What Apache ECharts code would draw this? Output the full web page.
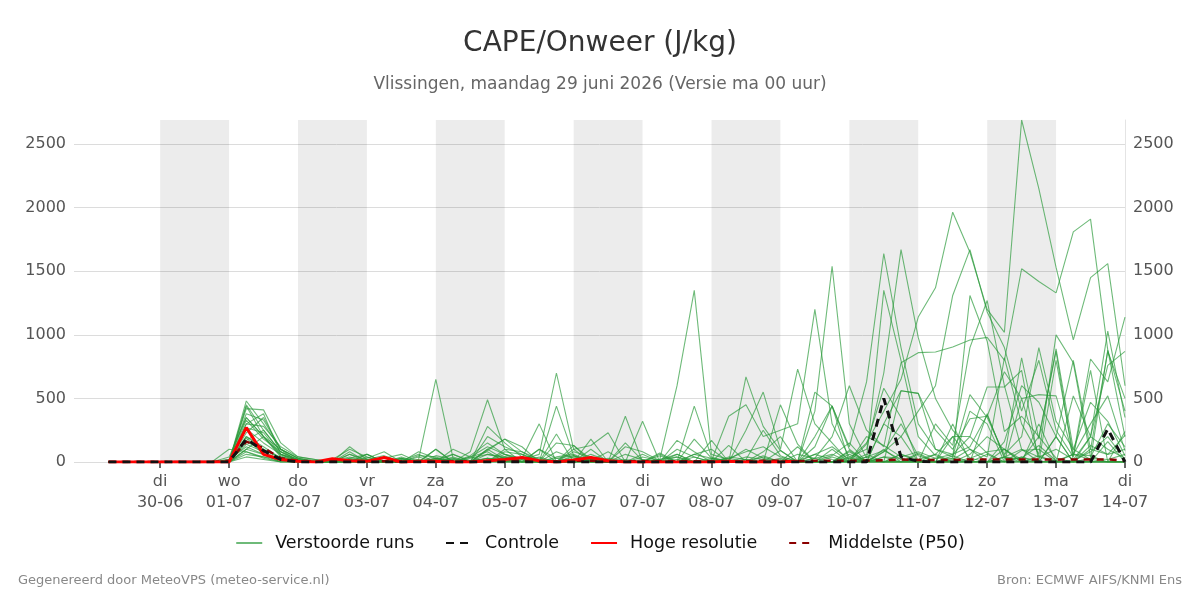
<!DOCTYPE html>
<html>
<head>
<meta charset="utf-8">
<title>CAPE/Onweer</title>
<script src="https://cdn.jsdelivr.net/npm/echarts@6/dist/echarts.min.js"></script>
<style>
  html, body { margin: 0; padding: 0; background: #fff; }
  #chart { width: 1200px; height: 600px; }
</style>
</head>
<body>
<div id="chart"></div>
<script>
// tijdstappen: elke 6 uur, eerste punt 29-06 06 uur (uren t.o.v. 30-06 00 uur)
const startHour = -18;
const stepHours = 6;

const dayNames = ["di", "wo", "do", "vr", "za", "zo", "ma", "di", "wo", "do", "vr", "za", "zo", "ma", "di"];
const dayDates = ["30-06", "01-07", "02-07", "03-07", "04-07", "05-07", "06-07", "07-07", "08-07", "09-07", "10-07", "11-07", "12-07", "13-07", "14-07"];

// verstoorde runs (J/kg)
const m01 = [0,0,0,0,0,0,0,40,350,200,60,20, 10,0,60,20,0,30,0,10,0,40,120,60, 20,0,80,30,10,0,60,20,0,100,40,0, 30,80,120,40,10,60,120,20,150,400,650,1140, 1370,1965,1650,1200,1020,2690,2150,1530,960,1450,1560,600];
const m02 = [0,0,0,0,0,0,0,0,480,300,100,30, 0,20,100,40,10,0,20,0,60,10,0,80, 60,10,0,130,20,0,0,40,10,0,180,30, 10,0,0,0,60,30,200,600,250,120,780,860, 865,905,960,980,800,1520,1420,1330,1810,1910,880,400];
const m03 = [0,0,0,0,0,0,0,0,450,250,80,20, 0,10,40,0,30,60,0,100,0,0,280,150, 40,30,0,50,10,80,0,0,20,60,0,0, 40,20,0,90,0,200,440,120,630,1640,900,300, 100,40,530,350,60,200,900,320,100,20,880,200];
const m04 = [0,0,0,0,0,0,0,0,420,410,150,40, 20,0,30,60,0,0,0,50,20,0,90,180, 80,20,0,0,30,0,120,80,10,0,60,30, 0,20,250,50,0,0,0,40,100,700,1670,980, 500,250,100,40,820,300,60,1000,780,40,300,120];
const m05 = [0,0,0,0,0,0,0,0,380,330,100,30, 10,0,20,0,0,40,0,0,0,30,60,40, 0,0,40,60,0,0,20,0,50,0,40,0, 0,0,80,200,0,400,1540,300,30,1350,800,200, 50,0,0,380,30,30,130,10,60,300,520,90];
const m06 = [0,0,0,0,0,0,0,20,350,200,40,10, 0,0,0,20,50,0,80,30,10,0,0,20, 0,100,30,0,0,0,0,0,20,40,0,10, 360,450,200,250,300,1200,300,40,0,80,300,50, 0,0,30,80,100,20,200,870,10,0,0,240];
const m07 = [0,0,0,0,0,0,0,0,300,280,120,40, 20,0,0,30,80,0,0,20,60,0,30,0, 0,0,30,50,0,20,0,0,20,600,1350,60, 20,100,30,0,0,0,40,0,40,90,20,0, 300,130,900,1270,600,100,40,100,20,200,100,30];
const m08 = [0,0,0,0,0,0,0,0,260,150,60,20, 0,0,20,0,0,10,60,0,30,0,0,40, 20,60,700,100,0,30,10,0,0,0,60,100, 0,0,0,20,0,30,60,0,200,130,40,80, 30,60,200,70,0,500,40,0,0,30,20,60];
const m09 = [0,0,0,0,0,0,0,0,230,350,100,30, 0,0,30,0,0,0,20,650,30,0,0,20, 10,0,0,80,40,0,0,60,0,20,0,0, 0,40,20,0,0,0,0,10,20,0,60,20, 60,200,30,0,40,20,0,800,60,20,0,0];
const m10 = [0,0,0,0,0,0,0,0,200,100,30,0, 0,0,0,0,10,20,0,0,0,80,490,100, 80,0,440,50,0,0,0,0,70,0,0,0, 0,0,40,0,0,10,50,150,0,40,30,0, 0,0,60,200,100,0,300,0,10,80,200,20];
const m11 = [0,0,0,0,0,0,0,0,170,250,80,20, 0,0,120,20,0,0,0,30,0,0,0,60, 30,300,0,0,60,10,0,20,0,0,0,30, 0,0,0,30,0,60,20,0,0,80,200,400, 600,1310,1670,1180,900,400,800,250,40,720,0,0];
const m12 = [0,0,0,0,0,0,0,0,140,80,20,0, 0,0,0,40,0,0,0,30,0,0,200,120, 60,0,0,0,0,0,0,0,0,0,440,40, 0,250,550,100,730,300,150,0,20,0,0,0, 0,20,100,0,0,40,0,0,520,200,1030,350];
const m13 = [0,0,0,0,0,0,0,20,120,60,20,0, 0,10,0,60,0,30,0,0,0,10,30,20, 0,0,220,0,20,0,360,0,0,40,0,0, 0,670,280,90,0,0,0,30,0,0,0,60, 0,200,200,590,590,720,0,200,800,100,60,210];
const m14 = [0,0,0,0,0,0,0,0,100,60,0,0, 0,0,0,0,0,0,0,0,0,50,150,60, 0,40,0,100,130,230,0,0,0,0,0,20, 0,0,0,0,0,550,440,100,0,0,560,540, 250,100,340,360,710,500,530,520,50,810,630,1140];
const m15 = [0,0,0,0,0,0,0,100,80,40,0,0, 0,0,0,0,0,30,0,20,20,10,0,30, 0,100,0,0,30,0,0,320,0,0,0,0, 30,0,0,0,0,0,0,90,0,300,200,0, 0,30,1310,950,240,360,200,30,0,100,870,500];
const m16 = [0,0,0,0,0,0,0,0,60,40,20,0, 0,0,0,0,0,0,0,0,100,40,0,0, 0,0,0,0,180,0,0,0,0,170,80,0, 0,0,0,450,140,0,0,80,0,300,560,540, 100,60,120,370,40,820,180,890,100,470,320,50];
const m17 = [0,0,0,0,0,0,0,0,40,20,0,0, 0,0,60,0,0,0,50,40,0,0,100,180, 120,0,0,0,0,0,0,0,0,0,0,0, 0,0,50,0,120,0,0,0,0,40,0,70, 0,300,0,0,160,600,470,200,0,0,160,0];
const m18 = [0,0,0,0,0,0,0,0,300,380,60,0, 0,0,0,0,0,20,0,100,0,0,0,40, 30,0,0,20,0,0,150,10,0,0,0,0, 0,20,0,0,0,120,440,0,0,0,0,0, 0,0,400,300,0,90,100,0,0,200,760,870];
const m19 = [0,0,0,0,0,0,0,0,200,120,30,0, 0,0,20,0,0,0,40,0,0,0,60,30, 0,0,150,130,0,0,0,0,0,0,0,170, 0,0,0,0,0,0,0,0,60,0,60,0, 0,50,0,0,100,0,0,0,60,50,0,0];
const m20 = [0,0,0,0,0,0,0,0,160,90,40,0, 0,0,0,60,0,0,0,0,0,0,100,20, 0,0,0,0,100,0,0,0,0,0,0,0, 130,0,0,0,0,0,0,0,140,580,350,0, 30,30,0,0,40,100,0,200,0,130,60,100];
const m21 = [0,0,0,0,0,0,0,0,440,200,50,0, 0,0,0,0,0,0,0,0,0,40,80,0, 30,0,0,0,20,0,0,0,0,0,0,0, 0,0,0,0,0,0,0,60,0,0,0,0, 0,0,0,60,0,40,0,0,0,0,0,0];
const m22 = [0,0,0,0,0,0,0,0,330,180,80,0, 0,0,0,20,0,0,0,0,0,0,0,100, 0,0,0,40,0,0,0,0,0,60,0,0, 0,0,0,0,0,0,100,0,0,0,0,0, 0,0,0,0,0,0,0,0,0,0,0,0];
const m23 = [0,0,0,0,0,0,0,0,270,230,60,0, 0,0,80,0,0,0,0,30,0,0,0,0, 0,0,0,0,0,0,0,0,60,0,0,0, 0,0,0,0,0,0,0,0,40,0,0,0, 60,0,0,0,40,0,0,0,0,0,0,0];
const m24 = [0,0,0,0,0,0,0,0,190,60,0,0, 0,0,0,0,0,0,0,0,40,0,0,0, 0,0,0,0,0,0,0,0,0,0,0,0, 0,0,0,0,0,0,0,0,0,100,0,0, 0,0,0,0,0,0,0,0,0,0,0,0];
const m25 = [0,0,0,0,0,0,0,0,100,200,100,0, 0,0,0,0,0,0,0,0,0,0,30,0, 0,0,0,0,0,0,0,0,0,0,0,0, 0,0,0,0,0,0,0,0,0,0,0,0, 0,0,0,0,0,0,50,0,0,0,0,0];
const m26 = [0,0,0,0,0,0,0,0,80,30,0,0, 0,0,0,0,0,0,0,0,0,0,0,0, 0,0,0,0,0,0,0,0,0,0,0,0, 0,0,0,0,0,30,0,0,0,0,0,0, 0,0,0,0,0,0,0,0,0,0,0,0];
const members = [m01, m02, m03, m04, m05, m06, m07, m08, m09, m10, m11, m12, m13, m14, m15, m16, m17, m18, m19, m20, m21, m22, m23, m24, m25, m26];

const controle = [0,0,0,0,0,0,0,0,180,90,20,0, 0,0,0,0,0,0,0,0,0,0,0,0, 0,0,0,0,0,0,0,0,0,0,0,0, 0,0,0,0,0,0,0,0,0,500,40,5, 0,0,0,0,0,0,0,0,0,0,260,0];
const hogeResolutie = [0,0,0,0,0,0,0,0,270,60,20,5, 0,25,10,5,35,0,5,5,0,0,10,20, 35,10,0,15,35,10,0,0,0,0,0,0, 5,0,0,0,5];
const mediaan = [0,0,0,0,0,0,0,10,160,110,30,10, 5,5,10,5,5,5,5,5,5,5,10,10, 10,5,5,10,10,5,5,5,5,5,5,5, 5,5,10,10,5,10,10,10,10,15,20,15, 15,15,20,20,20,20,20,20,20,20,20,10];

const yTicks = [0, 500, 1000, 1500, 2000, 2500];
const yMax = 2690;

const toPairs = (arr) => arr.map((v, i) => [startHour + i * stepHours, v]);
const dayHours = dayDates.map((d, i) => i * 24);

// grijze banden: om de dag, vanaf di 30-06
const bands = [];
for (let i = 0; i + 1 < dayHours.length; i += 2) {
  bands.push([{ xAxis: dayHours[i] }, { xAxis: dayHours[i + 1] }]);
}

const font = "DejaVu Sans";
const chart = echarts.init(document.getElementById("chart"));

const series = [
  {
    name: "bands",
    type: "line",
    data: [],
    silent: true,
    z: 1,
    markArea: {
      silent: true,
      itemStyle: { color: "rgba(0,0,0,0.075)" },
      data: bands,
    },
  },
];

members.forEach((m) => {
  series.push({
    name: "Verstoorde runs",
    type: "line",
    data: toPairs(m),
    showSymbol: false,
    symbol: "none",
    z: 2,
    lineStyle: { color: "#2a9a3a", width: 1.1, opacity: 0.68 },
    itemStyle: { color: "#2a9a3a" },
  });
});

series.push(
  {
    name: "Middelste (P50)",
    type: "line",
    data: toPairs(mediaan),
    symbol: "none",
    z: 3,
    lineStyle: { color: "#8b0000", width: 2.5, type: [7, 6] },
    itemStyle: { color: "#8b0000" },
  },
  {
    name: "Hoge resolutie",
    type: "line",
    data: toPairs(hogeResolutie),
    symbol: "none",
    z: 4,
    lineStyle: { color: "#ff0000", width: 3 },
    itemStyle: { color: "#ff0000" },
  },
  {
    name: "Controle",
    type: "line",
    data: toPairs(controle),
    symbol: "none",
    z: 5,
    lineStyle: { color: "#111111", width: 3, type: [8, 6] },
    itemStyle: { color: "#111111" },
  }
);

const yLabel = {
  color: "#555",
  fontSize: 16,
  fontFamily: font,
  margin: 8,
  customValues: yTicks,
  formatter: (v) => String(v),
};

chart.setOption({
  animation: false,
  textStyle: { fontFamily: font },
  title: [
    {
      text: "CAPE/Onweer (J/kg)",
      left: "center",
      top: 25,
      textStyle: { fontSize: 28, fontWeight: "normal", color: "#333", fontFamily: font },
    },
    {
      text: "Vlissingen, maandag 29 juni 2026 (Versie ma 00 uur)",
      left: "center",
      top: 71,
      textStyle: { fontSize: 17, fontWeight: "normal", color: "#666", fontFamily: font },
    },
    {
      text: "Gegenereerd door MeteoVPS (meteo-service.nl)",
      left: 13,
      top: 569,
      textStyle: { fontSize: 13, fontWeight: "normal", color: "#888", fontFamily: font },
    },
    {
      text: "Bron: ECMWF AIFS/KNMI Ens",
      right: 13,
      top: 569,
      textStyle: { fontSize: 13, fontWeight: "normal", color: "#888", fontFamily: font },
    },
  ],
  legend: {
    data: ["Verstoorde runs", "Controle", "Hoge resolutie", "Middelste (P50)"],
    left: "center",
    top: 529,
    itemWidth: 26,
    itemHeight: 10,
    itemGap: 31,
    selectedMode: false,
    itemStyle: { opacity: 0 },
    textStyle: { fontSize: 17.5, color: "#111", fontFamily: font, padding: [0, 0, 0, 8] },
  },
  grid: { left: 74, right: 75, top: 120, bottom: 138 },
  xAxis: {
    type: "value",
    min: -30,
    max: dayHours[dayHours.length - 1],
    splitLine: { show: false },
    axisLine: { show: false },
    axisTick: {
      show: true,
      length: 6,
      lineStyle: { color: "#666", width: 2 },
      customValues: dayHours,
    },
    axisLabel: {
      customValues: dayHours,
      color: "#555",
      fontSize: 16,
      lineHeight: 21,
      margin: 9,
      fontFamily: font,
      formatter: (v) => {
        const i = dayHours.indexOf(v);
        return i < 0 ? "" : dayNames[i] + "\n" + dayDates[i];
      },
    },
  },
  yAxis: [
    {
      type: "value",
      position: "left",
      min: 0,
      max: yMax,
      interval: 500,
      axisTick: { show: false },
      axisLine: { show: false },
      splitLine: { show: true, showMaxLine: false, lineStyle: { color: "#dcdcdc", width: 1 } },
      axisLabel: yLabel,
    },
    {
      type: "value",
      position: "right",
      min: 0,
      max: yMax,
      interval: 500,
      axisTick: { show: false },
      axisLine: { show: true, lineStyle: { color: "#e4e4e4", width: 1 } },
      splitLine: { show: false },
      axisLabel: yLabel,
    },
  ],
  series: series,
});

window.addEventListener("resize", () => chart.resize());
</script>
</body>
</html>
